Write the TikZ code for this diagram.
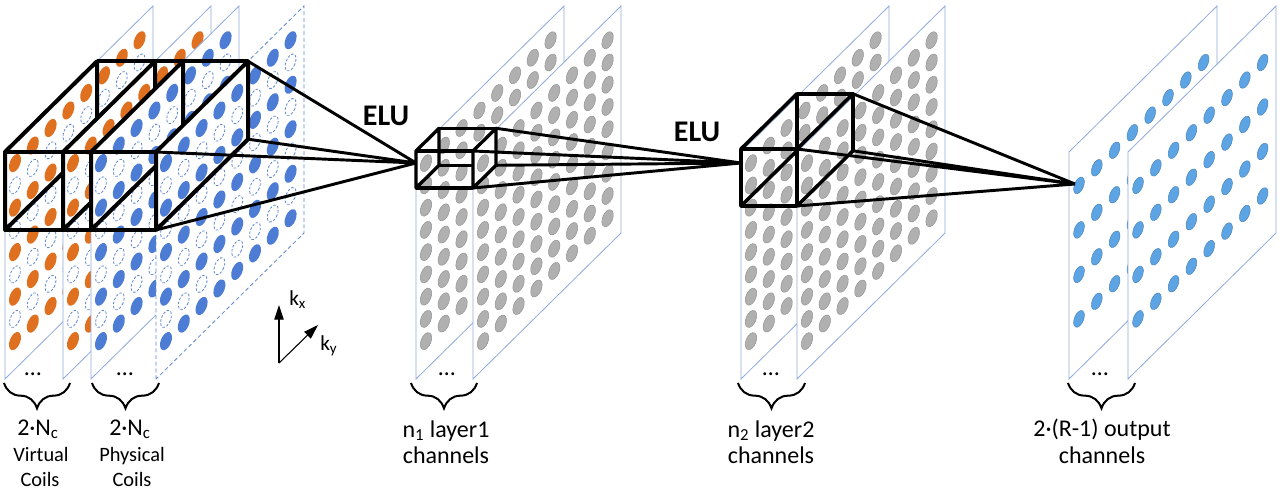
\documentclass[tikz,border=0pt]{standalone}
\usepackage{fontspec}
\setmainfont{Carlito}
\usetikzlibrary{arrows.meta,decorations.pathreplacing}
\definecolor{dorange}{RGB}{222,112,32}
\definecolor{dblue}{RGB}{76,124,212}
\definecolor{dgray}{RGB}{176,176,176}
\definecolor{dgrayb}{RGB}{145,145,145}
\definecolor{dlblue}{RGB}{92,164,228}
\definecolor{pborder}{RGB}{143,170,220}
\definecolor{missc}{RGB}{96,136,208}
\newcommand\dotgrid[3]{%
  \foreach \i in {0,...,7}{%
    \foreach \k in {0,...,8}{%
      \pgfmathsetmacro\uu{10+17.8*\i}%
      \pgfmathsetmacro\px{#1+\uu}%
      \pgfmathsetmacro\py{379-28-22.25*\k-\uu*0.9865}%
      \ifodd\k\relax
        \path[shift={(\px,\py)},rotate=-22,#3] (0,0) circle[];
      \else
        \path[shift={(\px,\py)},rotate=-22,#2] (0,0) circle[];
      \fi
    }}}
\newcommand\plane[2]{%
  \path[planestyle,#2] (#1,379) -- (#1,152) -- ({#1+148},6) -- ({#1+148},233) -- cycle;}
\newcommand\xsec[5]{%
  \draw[#1] (#2,#3) -- (#2,#4) -- ({#2+#5},{#4-#5*0.9865}) -- ({#2+#5},{#3-#5*0.9865}) -- cycle;}
\newcommand\xlink[6]{%
  \draw[#1] (#2,#4) -- (#3,#4) (#2,#5) -- (#3,#5)
    ({#2+#6},{#4-#6*0.9865}) -- ({#3+#6},{#4-#6*0.9865})
    ({#2+#6},{#5-#6*0.9865}) -- ({#3+#6},{#5-#6*0.9865});}
\begin{document}
\begin{tikzpicture}[x=0.75pt,y=-0.75pt,
  planestyle/.style={fill=white,draw=pborder,line width=0.6pt},
  dashplane/.style={draw=missc,dash pattern=on 3pt off 2pt},
  odot/.style={fill=dorange,x radius=5.2,y radius=9.6},
  bdot/.style={fill=dblue,x radius=5.2,y radius=9.6},
  gdot/.style={fill=dgray,draw=dgrayb,line width=0.35pt,x radius=5,y radius=9},
  ldot/.style={fill=dlblue,draw=dlblue!80!black,line width=0.35pt,x radius=4.6,y radius=8.8},
  mdot/.style={draw=missc,line width=0.6pt,dash pattern=on 1.9pt off 1.3pt,x radius=4.6,y radius=9},
  cubeA/.style={line width=3pt,line join=round},
  cubeB/.style={line width=2.5pt,line join=round},
  cubeC/.style={line width=2.7pt,line join=round},
  proj/.style={line width=2.2pt},
  brc/.style={decorate,decoration={brace,amplitude=19pt,mirror},line width=1.5pt},
  lbl/.style={anchor=base,inner sep=0pt,font=\fontsize{18}{20}\selectfont},
  slbl/.style={anchor=base,inner sep=0pt,font=\fontsize{15.3}{17}\selectfont},
  elu/.style={anchor=base,inner sep=0pt,font=\bfseries\fontsize{22.5}{24}\selectfont},
  axlbl/.style={anchor=base west,inner sep=0pt,font=\fontsize{16}{18}\selectfont},
  axarr/.style={line width=0.8pt,-{Triangle[length=11pt,width=7pt]}}
]
\fill[white] (0,0) rectangle (1279,489);
\useasboundingbox (0,0) rectangle (1279,489);
% ---- input group
\plane{5}{} \dotgrid{5}{odot}{mdot}
\xsec{cubeA}{5}{152}{230}{92} \xlink{cubeA}{5}{63}{152}{230}{92}
\plane{63}{} \dotgrid{63}{odot}{mdot}
\xsec{cubeA}{63}{152}{230}{92} \xlink{cubeA}{63}{91}{152}{230}{92}
\plane{91}{} \dotgrid{91}{bdot}{mdot}
\xsec{cubeA}{91}{152}{230}{92} \xlink{cubeA}{91}{156}{152}{230}{92}
\plane{156}{dashplane} \dotgrid{156}{bdot}{mdot}
\xsec{cubeA}{156}{152}{230}{92}
% ---- layer 1
\plane{416}{} \dotgrid{416}{gdot}{gdot}
\xsec{cubeB}{416}{151}{188}{23} \xlink{cubeB}{416}{473}{151}{188}{23}
\plane{473}{} \dotgrid{473}{gdot}{gdot}
\xsec{cubeB}{473}{151}{188}{23}
% ---- layer 2
\plane{741}{} \dotgrid{741}{gdot}{gdot}
\xsec{cubeC}{741}{149}{206}{56} \xlink{cubeC}{741}{797}{149}{206}{56}
\plane{797}{} \dotgrid{797}{gdot}{gdot}
\xsec{cubeC}{797}{149}{206}{56}
% ---- output
\plane{1069}{} \dotgrid{1069}{}{ldot}
\plane{1128}{} \dotgrid{1128}{}{ldot}
% ---- projection lines
\coordinate (f1) at (416,163);
\coordinate (f2) at (741,163);
\coordinate (f3) at (1075,184);
\coordinate (a1) at (248,61.2); \coordinate (a2) at (248,139.2);
\coordinate (a3) at (156,152);  \coordinate (a4) at (156,230);
\coordinate (b1) at (496,128.3); \coordinate (b2) at (496,165.3);
\coordinate (b3) at (473,151);   \coordinate (b4) at (473,188);
\coordinate (c1) at (853,93.8);  \coordinate (c2) at (853,150.8);
\coordinate (c3) at (797,149);   \coordinate (c4) at (797,206);
\draw[proj] (a1) -- (f1) (a2) -- (f1) (a3) -- (f1) (a4) -- (f1);
\draw[proj] (b1) -- (f2) (b2) -- (f2) (b3) -- (f2) (b4) -- (f2);
\draw[proj] (c1) -- (f3) (c2) -- (f3) (c3) -- (f3) (c4) -- (f3);
% ---- ELU
\node[elu] (elu1) at (386,125) {ELU};
\node[elu] (elu2) at (697,141) {ELU};
% ---- axes
\coordinate (ax0) at (279,363);
\coordinate (axx) at (279,305);
\coordinate (axy) at (318,325);
\draw[axarr] (ax0) -- (axx);
\draw[axarr] (ax0) -- (axy);
\node[axlbl] (kx) at (289,305) {k\textsubscript{x}};
\node[axlbl] (ky) at (320,350) {k\textsubscript{y}};
% ---- ellipsis marks
\node[lbl] (d1) at (33,375) {…};
\node[lbl] (d2) at (125,375) {…};
\node[lbl] (d3) at (447,375) {…};
\node[lbl] (d4) at (771,375) {…};
\node[lbl] (d5) at (1100,375) {…};
% ---- braces
\draw[brc] (4,383) -- (70,383);
\draw[brc] (92,383) -- (159,383);
\draw[brc] (411,383) -- (477,383);
\draw[brc] (738,383) -- (805,383);
\draw[brc] (1068,383) -- (1135,383);
% ---- labels
\node[lbl] (n1) at (38,435) {2·N\textsubscript{c}};
\node[slbl] (v1) at (41,461) {Virtual};
\node[slbl] (v2) at (40,486) {Coils};
\node[lbl] (n2) at (130,435) {2·N\textsubscript{c}};
\node[slbl] (p1) at (132,461) {Physical};
\node[slbl] (p2) at (132,486) {Coils};
\node[lbl] (l1a) at (446,437) {n\textsubscript{1} layer1};
\node[lbl] (l1b) at (446,463) {channels};
\node[lbl] (l2a) at (771,437) {n\textsubscript{2} layer2};
\node[lbl] (l2b) at (771,463) {channels};
\node[lbl] (oa) at (1102,436) {2·(R-1) output};
\node[lbl] (ob) at (1102,463) {channels};
\end{tikzpicture}
\end{document}
